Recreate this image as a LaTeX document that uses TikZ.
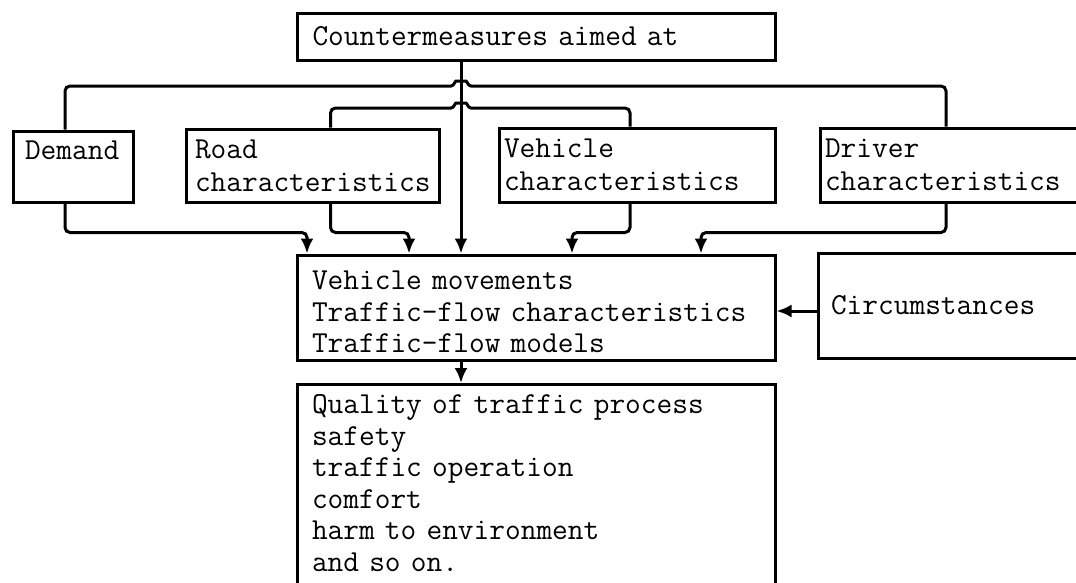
\documentclass[tikz,border=0pt]{standalone}
\usetikzlibrary{arrows.meta}
\begin{document}
\begin{tikzpicture}[x=1pt,y=-1pt,
  box/.style={draw, line width=3pt, rectangle, align=left, font=\fontsize{30.5}{33}\selectfont\ttfamily, inner ysep=0pt},
  conn/.style={line width=3pt, rounded corners=5pt},
  arr/.style={conn, -{Latex[length=15pt,width=13pt]}}]
\useasboundingbox (0,0) rectangle (1076,582);
\clip (0,0) rectangle (1076,582);

\node[box, minimum width=478pt, minimum height=47pt, text width=447pt, inner xsep=15.5pt] (top) at (536,36.5) {Countermeasures aimed at};

\node[box, minimum width=120pt, minimum height=71pt, text width=96pt, inner xsep=12pt] (demand) at (73,166.5) {Demand\\~};
\node[box, minimum width=253pt, minimum height=73pt, text width=235pt, inner xsep=9pt] (road) at (312.5,165.5) {Road\\characteristics};
\node[box, minimum width=276pt, minimum height=74pt, text width=266pt, inner xsep=5pt] (vehicle) at (637,165) {Vehicle\\characteristics};
\node[box, minimum width=280pt, minimum height=74pt, text width=270pt, inner xsep=5pt] (driver) at (960,165) {Driver\\characteristics};

\node[box, font=\fontsize{30.5}{31.5}\selectfont\ttfamily, minimum width=478pt, minimum height=105pt, text width=448pt, inner xsep=15pt] (middle) at (536,307.5) {\rule{0pt}{28pt}Vehicle movements\\Traffic-flow characteristics\\Traffic-flow models};
\node[box, minimum width=282pt, minimum height=105pt, text width=256pt, inner xsep=13pt] (circ) at (959,305.5) {Circumstances};

\node[box, font=\fontsize{30.5}{31.5}\selectfont\ttfamily, anchor=north, minimum width=478pt, text width=448pt, inner xsep=15pt, inner ysep=10pt] (quality) at (536,383) {Quality of traffic process\\safety\\traffic operation\\comfort\\harm to environment\\and so on.\\~};

% distribution lines from the countermeasures (with line jumps over the trunk)
\draw[arr] ([xshift=-75pt]top.south) -- ([xshift=-75pt]middle.north);
\draw[conn] ([xshift=-8pt]demand.north) |- (446,86) .. controls (454,86) and (455,81) .. (461,81) .. controls (467,81) and (468,86) .. (476,86) -| ([xshift=-14pt]driver.north);
\draw[conn] ([xshift=18pt]road.north) |- (446,108) .. controls (454,108) and (455,103) .. (461,103) .. controls (467,103) and (468,108) .. (476,108) -| ([xshift=-7pt]vehicle.north);

% into the vehicle movement box
\draw[arr] ([xshift=-8pt]demand.south) -- ++(0,29) -| ([xshift=-229pt]middle.north);
\draw[arr] ([xshift=18pt]road.south) -- ++(0,29) -| ([xshift=-127pt]middle.north);
\draw[arr] ([xshift=-7pt]vehicle.south) -- ++(0,29) -| ([xshift=36pt]middle.north);
\draw[arr] ([xshift=-14pt]driver.south) -- ++(0,29) -| ([xshift=165pt]middle.north);

\coordinate (cw) at ([yshift=-5.5pt]circ.west);
\draw[arr] (cw) -- (cw -| middle.east);
\draw[arr] ([xshift=-75pt]middle.south) -- ([xshift=-75pt]quality.north);
\end{tikzpicture}
\end{document}
